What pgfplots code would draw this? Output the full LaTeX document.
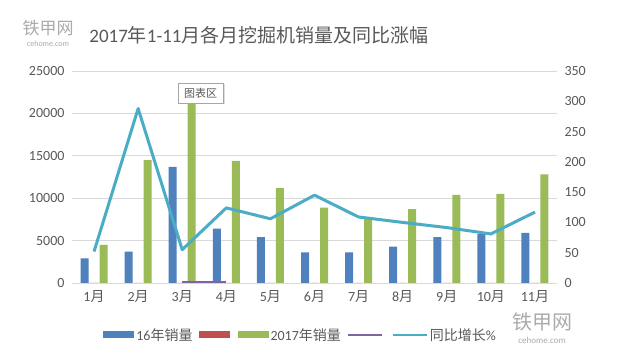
\documentclass[border=0pt]{standalone}
\usepackage{fontspec}
\setmainfont{Carlito}
\newfontfamily\cjk{Noto Sans CJK SC}
\usepackage{pgfplots}
\pgfplotsset{compat=1.18}
\usetikzlibrary{shadows}
\definecolor{c16}{HTML}{4F81BD}
\definecolor{cred}{HTML}{C0504D}
\definecolor{c17}{HTML}{9BBB59}
\definecolor{cpur}{HTML}{8064A2}
\definecolor{cteal}{HTML}{4BACC6}
\definecolor{txt}{HTML}{595959}
\definecolor{gridc}{HTML}{D9D9D9}
\definecolor{wm}{HTML}{ABABAB}
\newcommand{\yue}{{\cjk 月}}
\begin{document}
\begin{tikzpicture}[x=1pt,y=1pt]
\useasboundingbox (0,0) rectangle (620,358);
\fill[white] (0,0) rectangle (620,358);
\begin{axis}[
  at={(72pt,75pt)}, anchor=south west,
  scale only axis, width=485pt, height=212pt,
  xmin=0.5, xmax=11.5, ymin=0, ymax=25000,
  ytick={0,5000,...,25000},
  xtick={1,...,11},
  xticklabels={1\yue,2\yue,3\yue,4\yue,5\yue,6\yue,7\yue,8\yue,9\yue,10\yue,11\yue},
  ymajorgrids, grid style={gridc, line width=0.8pt},
  axis x line*=bottom, axis y line*=left,
  axis line style={-},
  y axis line style={draw=none},
  x axis line style={gridc, line width=0.8pt},
  major tick length=0pt,
  tick label style={font=\fontsize{14}{16}\selectfont, text=txt},
  /pgf/number format/assume math mode=true,
  scaled y ticks=false,
  yticklabel style={/pgf/number format/1000 sep={}, xshift=-4pt},
  xticklabel style={yshift=-4pt},
  ybar=1.5pt, bar width=8pt,
  legend columns=-1,
  legend style={at={(axis description cs:0.058,-0.245)}, anchor=west,
    draw=none, fill=none, font=\fontsize{14}{16}\selectfont, text=txt,
    /tikz/every even column/.append style={column sep=4pt},
    nodes={inner xsep=2pt}},
]
\addplot[fill=c16, draw=none,
  legend image code/.code={\fill[c16] (0pt,-3.5pt) rectangle (31pt,3.5pt);}]
  coordinates {(1,2900)(2,3700)(3,13700)(4,6400)(5,5400)(6,3600)(7,3600)(8,4300)(9,5400)(10,5750)(11,5900)};
\addlegendentry{16{\cjk 年销量}}
\addplot[fill=cred, draw=none,
  legend image code/.code={\fill[cred] (0pt,-3.5pt) rectangle (31pt,3.5pt);}]
  coordinates {(1,0)(2,0)(3,0)(4,0)(5,0)(6,0)(7,0)(8,0)(9,0)(10,0)(11,0)};
\addlegendentry{}
\addplot[fill=c17, draw=none,
  legend image code/.code={\fill[c17] (0pt,-3.5pt) rectangle (31pt,3.5pt);}]
  coordinates {(1,4500)(2,14500)(3,21400)(4,14400)(5,11200)(6,8900)(7,7600)(8,8700)(9,10400)(10,10500)(11,12800)};
\addlegendentry{2017{\cjk 年销量}}
\addlegendimage{legend image code/.code={\draw[cpur, line width=2.5pt] (0pt,0pt) -- (34pt,0pt);}}
\addlegendentry{}
\addlegendimage{legend image code/.code={\draw[cteal, line width=2.5pt] (0pt,0pt) -- (34pt,0pt);}}
\addlegendentry{{\cjk 同比增长}\%}
\end{axis}
\begin{axis}[
  at={(72pt,75pt)}, anchor=south west,
  scale only axis, width=485pt, height=212pt,
  xmin=0.5, xmax=11.5, ymin=0, ymax=350,
  ytick={0,50,...,350},
  axis y line*=right, axis x line=none,
  axis line style={draw=none},
  major tick length=0pt,
  tick label style={font=\fontsize{14}{16}\selectfont, text=txt},
  /pgf/number format/assume math mode=true,
  yticklabel style={xshift=4pt},
]
\addplot[cpur, line width=2pt] coordinates {(3,1.5)(4,1.5)};
\addplot[cteal, line width=3pt, line join=round] coordinates {(1,52)(2,288)(3,55)(4,124)(5,106)(6,145)(7,109)(8,100)(9,91.5)(10,81)(11,117)};
\end{axis}
\node[text=txt, font=\fontsize{19}{22}\selectfont] at (259,323) {2017{\cjk 年}1-11{\cjk 月各月挖掘机销量及同比涨幅}};
\node[text=wm, font=\fontsize{17}{18}\selectfont\cjk] at (48,330) {铁甲网};
\node[text=wm, font=\fontsize{8}{9}\selectfont] at (48,314) {cehome.com};
\node[text=wm, font=\fontsize{20}{22}\selectfont\cjk] at (542,36) {铁甲网};
\node[text=wm, font=\fontsize{9}{10}\selectfont] at (542,18) {cehome.com};
\node[draw=gray!70, fill=white, drop shadow={shadow xshift=1.5pt, shadow yshift=-1.5pt, fill=gray!50}, minimum width=45pt, minimum height=20pt, inner sep=1pt, text=txt, font=\fontsize{11}{12}\selectfont\cjk] at (200.5,265) {图表区};
\end{tikzpicture}
\end{document}
